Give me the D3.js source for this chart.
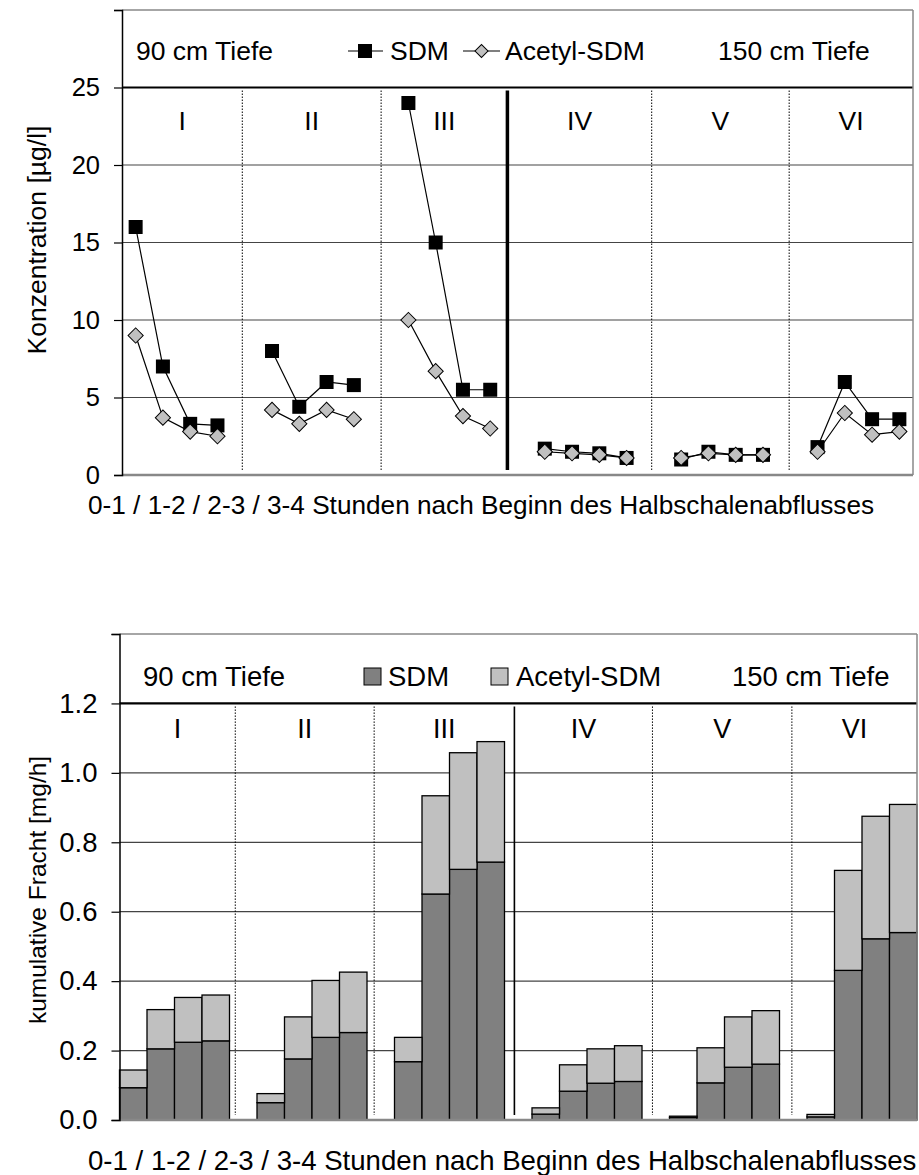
<!DOCTYPE html>
<html><head><meta charset="utf-8">
<script src="https://cdn.jsdelivr.net/npm/d3@7"></script>
<style>
html,body{margin:0;padding:0;background:#fff;}
svg{display:block;font-family:"Liberation Sans",Arial,sans-serif;}
</style></head>
<body>
<svg id="chart" width="919" height="1175"></svg>
<script>
// ---------- data ----------
const groups = ["I","II","III","IV","V","VI"];
const periods = ["0-1","1-2","2-3","3-4"];
const depthLabels = ["90 cm Tiefe","150 cm Tiefe"];
const seriesNames = ["SDM","Acetyl-SDM"];
// concentrations [µg/l]
const sdmConc    = [16,7,3.3,3.2, 8,4.4,6,5.8, 24,15,5.5,5.5, 1.7,1.5,1.4,1.1, 1.0,1.5,1.3,1.3, 1.8,6,3.6,3.6];
const acetylConc = [9,3.7,2.8,2.5, 4.2,3.3,4.2,3.6, 10,6.7,3.8,3.0, 1.5,1.4,1.3,1.1, 1.1,1.4,1.3,1.3, 1.5,4,2.6,2.8];
// cumulative loads [mg/h] (stacked: SDM below, Acetyl-SDM on top)
const sdmLoad    = [0.093,0.205,0.224,0.228, 0.050,0.176,0.238,0.252, 0.168,0.651,0.722,0.743, 0.017,0.083,0.106,0.111, 0.007,0.107,0.152,0.161, 0.009,0.431,0.522,0.540];
const acetylLoad = [0.051,0.113,0.129,0.132, 0.026,0.121,0.164,0.174, 0.070,0.283,0.336,0.347, 0.018,0.076,0.099,0.103, 0.004,0.101,0.145,0.154, 0.007,0.288,0.353,0.369];
const concTicks = [0,5,10,15,20,25,30];
const loadTicks = [0,0.2,0.4,0.6,0.8,1.0,1.2,1.4];
const xTitle = "0-1 / 1-2 / 2-3 / 3-4 Stunden nach Beginn des Halbschalenabflusses";
const yTitleTop = "Konzentration [µg/l]";
const yTitleBottom = "kumulative Fracht [mg/h]";

// ---------- categories (with one empty slot between groups) ----------
const cats = [];
const rows = [];
groups.forEach((g,gi)=>{
  if(gi>0) cats.push("gap"+gi);
  periods.forEach((p,pi)=>{ const k=g+"|"+p; cats.push(k); rows.push({key:k,g:gi,i:gi*4+pi}); });
});

const svg = d3.select("#chart");

function panel(cfg){
  const {x0,x1,yT,yB,domain,ticks,fmt,dividers,thick,labelY,legendY,yTitle,yTitleY,xTitleY,fs} = cfg;
  const x = d3.scaleBand().domain(cats).range([x0,x1]).padding(0);
  const y = d3.scaleLinear().domain(domain).range([yB,yT]);
  const bw = x.bandwidth();
  const g = svg.append("g");
  const top = ticks[ticks.length-2];
  // gridlines
  g.append("g").selectAll("line").data(ticks.filter(t=>t>0 && t<top)).join("line")
    .attr("x1",x0).attr("x2",x1).attr("y1",d=>y(d)).attr("y2",d=>y(d))
    .attr("stroke","#444").attr("stroke-width",1.2);
  cfg.marks(g,x,y,bw);
  // header line
  g.append("line").attr("x1",x0).attr("x2",x1).attr("y1",y(top)).attr("y2",y(top))
    .attr("stroke","#000").attr("stroke-width",2.2);
  // dividers
  const dx = dividers.map(d=>x0+d*bw);
  g.append("g").selectAll("line").data(dx).join("line")
    .attr("x1",d=>d).attr("x2",d=>d).attr("y1",y(top)+3).attr("y2",yB-5)
    .attr("stroke","#000")
    .attr("stroke-width",(d,i)=>i===2?thick:1)
    .attr("stroke-dasharray",(d,i)=>i===2?null:"1.5,1.5");
  // group labels
  const bounds=[x0,...dx,x1];
  g.append("g").selectAll("text").data(groups).join("text")
    .attr("x",(d,i)=>(bounds[i]+bounds[i+1])/2).attr("y",labelY)
    .attr("text-anchor","middle").attr("font-size",fs.label).text(d=>d);
  // frame: top and right grey, bottom grey
  g.append("line").attr("x1",x0).attr("x2",x1).attr("y1",yT).attr("y2",yT).attr("stroke","#888").attr("stroke-width",1.5);
  g.append("line").attr("x1",x1).attr("x2",x1).attr("y1",yT).attr("y2",yB).attr("stroke","#888").attr("stroke-width",1.5);
  g.append("line").attr("x1",x0).attr("x2",x1).attr("y1",yB).attr("y2",yB).attr("stroke","#888").attr("stroke-width",2.5);
  // y axis
  const ax = g.append("g").attr("transform",`translate(${x0},0)`)
    .call(d3.axisLeft(y).tickValues(ticks).tickSize(8).tickPadding(14)
      .tickFormat(d=>d===ticks[ticks.length-1]?"":fmt(d)));
  ax.select(".domain").attr("stroke","#000").attr("stroke-width",1.5);
  ax.selectAll(".tick line").attr("stroke","#000").attr("stroke-width",1.2);
  ax.selectAll(".tick text").attr("font-size",fs.tick).attr("font-family","Liberation Sans, Arial, sans-serif").attr("fill","#000");
  // y title
  g.append("text").attr("transform",`translate(46,${yTitleY}) rotate(-90)`)
    .attr("text-anchor","middle").attr("font-size",fs.ytitle).text(yTitle);
  // x title
  g.append("text").attr("x",88).attr("y",xTitleY).attr("font-size",fs.xtitle).text(xTitle);
  // depth labels
  g.append("text").attr("x",cfg.depthX[0]).attr("y",legendY).attr("font-size",fs.legend).text(depthLabels[0]);
  g.append("text").attr("x",cfg.depthX[1]).attr("y",legendY).attr("font-size",fs.legend).text(depthLabels[1]);
  cfg.legend(g,legendY,fs.legend);
}

// ---------- top: concentration lines ----------
panel({
  x0:122,x1:913,yT:10,yB:475,domain:[0,30],ticks:concTicks,fmt:d3.format("d"),
  dividers:[4.41,9.5,14.13,19.42,24.46],thick:3.5,labelY:130,legendY:60,
  yTitle:yTitleTop,yTitleY:240,xTitleY:514,depthX:[136,718],
  fs:{tick:25.5,ytitle:26.5,xtitle:26.2,legend:26.5,label:26.5},
  marks:(g,x,y,bw)=>{
    const cx=d=>x(d.key)+bw/2;
    [[acetylConc,"a"],[sdmConc,"s"]].forEach(([vals,t])=>{
      groups.forEach((gr,gi)=>{
        const pts=rows.filter(r=>r.g===gi);
        g.append("path").datum(pts)
          .attr("d",d3.line().x(cx).y(r=>y(vals[r.i])))
          .attr("fill","none").attr("stroke","#000").attr("stroke-width",1.2);
      });
    });
    g.append("g").selectAll("rect").data(rows).join("rect")
      .attr("x",r=>cx(r)-7).attr("y",r=>y(sdmConc[r.i])-7).attr("width",14).attr("height",14)
      .attr("fill","#000");
    g.append("g").selectAll("path").data(rows).join("path")
      .attr("d",d3.symbol().type(d3.symbolSquare).size(115))
      .attr("transform",r=>`translate(${cx(r)},${y(acetylConc[r.i])}) rotate(45)`)
      .attr("fill","#c0c0c0").attr("stroke","#000").attr("stroke-width",1);
  },
  legend:(g,ly,f)=>{
    const cy=ly-9;
    g.append("line").attr("x1",348).attr("x2",383).attr("y1",cy).attr("y2",cy).attr("stroke","#000").attr("stroke-width",1.2);
    g.append("rect").attr("x",365-7).attr("y",cy-7).attr("width",14).attr("height",14).attr("fill","#000");
    g.append("text").attr("x",390).attr("y",ly).attr("font-size",f).text(seriesNames[0]);
    g.append("line").attr("x1",463).attr("x2",500).attr("y1",cy).attr("y2",cy).attr("stroke","#000").attr("stroke-width",1.2);
    g.append("path").attr("d",d3.symbol().type(d3.symbolSquare).size(85))
      .attr("transform",`translate(481.5,${cy}) rotate(45)`).attr("fill","#c0c0c0").attr("stroke","#000");
    g.append("text").attr("x",505).attr("y",ly).attr("font-size",f).text(seriesNames[1]);
  }
});

// ---------- bottom: cumulative load stacked bars ----------
panel({
  x0:119.5,x1:917,yT:634,yB:1120,domain:[0,1.4],ticks:loadTicks,fmt:d3.format(".1f"),
  dividers:[4.21,9.26,14.36,19.38,24.45],thick:1.6,labelY:738,legendY:686,
  yTitle:yTitleBottom,yTitleY:890,xTitleY:1170,depthX:[143,732],
  fs:{tick:27.5,ytitle:24.5,xtitle:27.6,legend:27.5,label:27},
  marks:(g,x,y,bw)=>{
    const stack=d3.stack().keys(["s","a"])(rows.map(r=>({key:r.key,s:sdmLoad[r.i],a:acetylLoad[r.i]})));
    const fills=["#808080","#c0c0c0"];
    stack.forEach((layer,li)=>{
      g.append("g").selectAll("rect").data(layer).join("rect")
        .attr("x",d=>x(d.data.key)).attr("width",bw)
        .attr("y",d=>y(d[1])).attr("height",d=>y(d[0])-y(d[1]))
        .attr("fill",fills[li]).attr("stroke","#000").attr("stroke-width",1.3);
    });
  },
  legend:(g,ly,f)=>{
    g.append("rect").attr("x",364).attr("y",ly-18).attr("width",17).attr("height",17).attr("fill","#808080").attr("stroke","#000");
    g.append("text").attr("x",388).attr("y",ly).attr("font-size",f).text(seriesNames[0]);
    g.append("rect").attr("x",491).attr("y",ly-18).attr("width",17).attr("height",17).attr("fill","#c0c0c0").attr("stroke","#000");
    g.append("text").attr("x",516).attr("y",ly).attr("font-size",f).text(seriesNames[1]);
  }
});
</script>
</body></html>
